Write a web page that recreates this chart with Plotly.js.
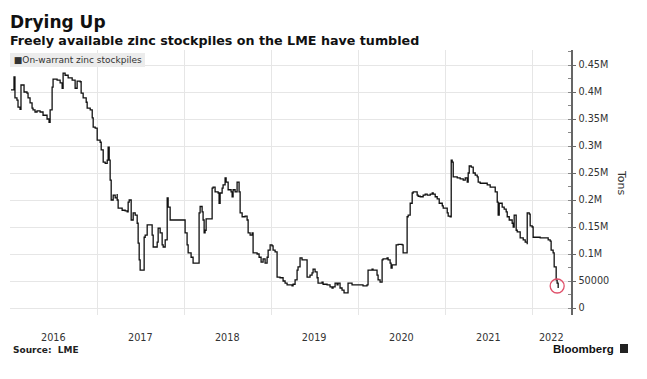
<!DOCTYPE html>
<html>
<head>
<meta charset="utf-8">
<script src="https://cdn.plot.ly/plotly-3.0.1.min.js"></script>
<style>
html,body{margin:0;padding:0;background:#fff;}
#chart{width:647px;height:379px;}
</style>
</head>
<body>
<div id="chart"></div>
<script>
const dateYears = [
2016.011,2016.046,2016.057,2016.080,2016.092,2016.115,2016.126,2016.161,2016.195,2016.207,
2016.230,2016.253,2016.264,2016.287,2016.310,2016.345,2016.379,2016.425,2016.448,2016.460,
2016.483,2016.494,2016.540,2016.575,2016.598,2016.609,2016.632,2016.667,2016.713,2016.747,
2016.747,2016.770,2016.805,2016.816,2016.839,2016.874,2016.885,2016.920,2016.943,2016.954,
2016.977,2017.000,2017.034,2017.046,2017.069,2017.092,2017.115,2017.126,2017.138,2017.149,
2017.161,2017.184,2017.207,2017.230,2017.230,2017.241,2017.287,2017.322,2017.345,2017.356,
2017.368,2017.391,2017.414,2017.437,2017.460,2017.471,2017.483,2017.494,2017.529,2017.540,
2017.552,2017.575,2017.609,2017.632,2017.644,2017.667,2017.690,2017.701,2017.724,2017.747,
2017.759,2017.782,2017.805,2017.816,2017.839,2017.989,2018.011,2018.034,2018.046,2018.080,
2018.103,2018.161,2018.172,2018.184,2018.207,2018.218,2018.230,2018.241,2018.253,2018.299,
2018.322,2018.333,2018.356,2018.391,2018.402,2018.414,2018.437,2018.448,2018.471,2018.483,
2018.506,2018.540,2018.552,2018.563,2018.586,2018.609,2018.632,2018.644,2018.667,2018.701,
2018.724,2018.736,2018.759,2018.782,2018.793,2018.839,2018.862,2018.885,2018.908,2018.931,
2018.954,2018.966,2018.989,2019.011,2019.023,2019.046,2019.069,2019.103,2019.138,2019.161,
2019.184,2019.218,2019.241,2019.253,2019.276,2019.299,2019.310,2019.333,2019.356,2019.391,
2019.414,2019.414,2019.448,2019.471,2019.483,2019.506,2019.529,2019.540,2019.586,2019.598,
2019.644,2019.678,2019.701,2019.713,2019.736,2019.759,2019.770,2019.793,2019.816,2019.839,
2019.862,2019.885,2019.908,2019.931,2019.989,2020.057,2020.103,2020.115,2020.161,2020.172,
2020.218,2020.230,2020.253,2020.276,2020.287,2020.333,2020.345,2020.368,2020.379,2020.391,
2020.425,2020.437,2020.460,2020.506,2020.517,2020.540,2020.563,2020.575,2020.598,2020.621,
2020.632,2020.667,2020.678,2020.690,2020.713,2020.747,2020.770,2020.793,2020.828,2020.851,
2020.862,2020.885,2020.908,2020.931,2020.966,2020.977,2021.023,2021.034,2021.057,2021.069,
2021.080,2021.092,2021.092,2021.138,2021.172,2021.207,2021.230,2021.253,2021.264,2021.276,
2021.299,2021.322,2021.345,2021.368,2021.379,2021.402,2021.437,2021.483,2021.517,2021.552,
2021.575,2021.598,2021.609,2021.621,2021.655,2021.678,2021.701,2021.713,2021.736,2021.770,
2021.782,2021.793,2021.816,2021.828,2021.862,2021.897,2021.920,2021.943,2021.943,2021.966,
2021.977,2022.000,2022.011,2022.057,2022.092,2022.126,2022.172,2022.184,2022.207,2022.218,
2022.241,2022.253,2022.276,2022.287,2022.299
];
// On-warrant zinc stockpiles, tons
const stockTons = [
404000,428000,389000,385000,372000,368000,413000,400000,398000,389000,
380000,370000,367000,363000,365000,363000,357000,350000,344000,367000,
409000,424000,422000,417000,407000,435000,431000,426000,422000,417000,
407000,420000,419000,398000,389000,381000,370000,367000,352000,335000,
333000,311000,307000,293000,270000,268000,274000,298000,274000,237000,
200000,209000,204000,211000,200000,185000,181000,180000,178000,196000,
200000,163000,176000,172000,157000,120000,89000,70000,70000,131000,
135000,154000,154000,135000,113000,113000,122000,148000,139000,117000,
113000,126000,204000,187000,163000,163000,139000,117000,102000,94000,
83000,83000,176000,188000,178000,163000,139000,144000,165000,165000,
222000,224000,215000,213000,194000,213000,222000,228000,241000,233000,
219000,215000,206000,219000,215000,233000,215000,176000,169000,170000,
163000,139000,135000,139000,102000,100000,94000,85000,91000,83000,
94000,107000,117000,115000,107000,104000,57000,56000,50000,46000,
43000,43000,41000,44000,52000,70000,76000,93000,89000,89000,
87000,57000,61000,65000,72000,67000,56000,46000,48000,44000,
43000,39000,37000,39000,46000,43000,46000,37000,33000,28000,
28000,46000,46000,43000,43000,41000,43000,70000,72000,70000,
61000,52000,48000,89000,91000,93000,89000,83000,74000,80000,
80000,117000,118000,117000,102000,102000,169000,172000,194000,213000,
215000,215000,209000,207000,206000,209000,211000,209000,211000,213000,
211000,206000,202000,194000,189000,185000,176000,170000,169000,274000,
270000,256000,243000,241000,239000,237000,241000,233000,250000,263000,
261000,250000,246000,243000,233000,231000,231000,228000,224000,224000,
215000,196000,172000,194000,187000,183000,178000,169000,163000,157000,
150000,172000,144000,141000,130000,126000,122000,118000,176000,174000,
152000,150000,131000,131000,130000,130000,130000,126000,124000,107000,
102000,76000,52000,46000,37000
];

const xTickDates = ['2016-07-01','2017-07-01','2018-07-01','2019-07-01','2020-07-01','2021-07-01','2022-03-22'];
const xTickLabels = ['2016','2017','2018','2019','2020','2021','2022'];
const yTickValues = [0,50000,100000,150000,200000,250000,300000,350000,400000,450000];
const yTickLabels = ['0','50000','0.1M','0.15M','0.2M','0.25M','0.3M','0.35M','0.4M','0.45M'];

function decYearToDate(d){
  const y = Math.floor(d + 1e-9);
  const s = Date.UTC(y,0,1), e = Date.UTC(y+1,0,1);
  return new Date(s + (d - y)*(e - s)).toISOString().slice(0,19).replace('T',' ');
}
const dates = dateYears.map(decYearToDate);
const lastDate = dates[dates.length-1];
const lastVal = stockTons[stockTons.length-1];

const trace = {
  x: dates, y: stockTons, type:'scatter', mode:'lines',
  line:{color:'#111111', width:1.3, shape:'hv'},
  name:'On-warrant zinc stockpiles', showlegend:false, hoverinfo:'x+y'
};

const grid = '#e6e6e6';
const L = 10, R = 76, T = 50, B = 64, W = 647, H = 379;
const pw = W - L - R, ph = H - T - B;
const px = v => (v - L)/pw;
const py = v => (H - B - v)/ph;

const layout = {
  width:W, height:H,
  margin:{l:L, r:R, t:T, b:B, pad:0},
  paper_bgcolor:'#ffffff', plot_bgcolor:'#ffffff',
  font:{family:'DejaVu Sans, Verdana, sans-serif', color:'#333333', size:10},
  xaxis:{
    type:'date', range:['2016-01-01','2022-06-13'],
    tickmode:'array', tickvals:xTickDates, ticktext:xTickLabels,
    showgrid:false, zeroline:false, showline:false, ticks:'',
    tickfont:{size:9.7, color:'#333333'}, ticklabelstandoff:15,
    minor:{tick0:'2016-01-01', dtick:'M12', showgrid:true, gridcolor:grid, gridwidth:1, ticks:''},
    fixedrange:true
  },
  yaxis:{
    side:'right', range:[-12960, 477800],
    tickmode:'array', tickvals:yTickValues, ticktext:yTickLabels,
    showgrid:true, gridcolor:grid, gridwidth:1, zeroline:false,
    showline:true, linecolor:'#666666', linewidth:1.5,
    ticks:'outside', ticklen:3, tickcolor:'#666666', tickwidth:1,
    tickfont:{size:9.7, color:'#333333'}, ticklabelstandoff:1,
    minor:{tick0:0, dtick:25000, ticks:'inside', ticklen:3, tickcolor:'#888888', showgrid:false},
    fixedrange:true
  },
  shapes:[
    {type:'circle', xref:'x', yref:'y', xsizemode:'pixel', ysizemode:'pixel',
     xanchor:lastDate, yanchor:lastVal, x0:-8, x1:6, y0:-5, y1:9,
     line:{color:'#e0506a', width:1.3}},
    {type:'rect', xref:'paper', yref:'paper', x0:px(620), x1:px(628), y0:py(353), y1:py(344),
     fillcolor:'#222222', line:{width:0}}
  ],
  annotations:[
    {xref:'paper', yref:'paper', x:px(8), y:py(22), xanchor:'left', yanchor:'middle', showarrow:false,
     text:'<b>Drying Up</b>', font:{family:'DejaVu Sans', size:17, color:'#111111'}},
    {xref:'paper', yref:'paper', x:px(8), y:py(40), xanchor:'left', yanchor:'middle', showarrow:false,
     text:'<b>Freely available zinc stockpiles on the LME have tumbled</b>', font:{family:'DejaVu Sans', size:12.7, color:'#111111'}},
    {xref:'paper', yref:'paper', x:px(10), y:py(60), xanchor:'left', yanchor:'middle', showarrow:false,
     text:'\u2009■On-warrant zinc stockpiles', align:'left', width:131, bgcolor:'#ececec', borderwidth:0, borderpad:2,
     font:{family:'DejaVu Sans', size:9, color:'#333333'}},
    {xref:'paper', yref:'paper', x:px(622), y:py(183), xanchor:'center', yanchor:'middle', showarrow:false,
     text:'Tons', textangle:90, font:{family:'DejaVu Sans', size:11, color:'#333333'}},
    {xref:'paper', yref:'paper', x:px(11), y:py(350), xanchor:'left', yanchor:'middle', showarrow:false,
     text:'<b>Source:  LME</b>', font:{family:'DejaVu Sans', size:9, color:'#222222'}},
    {xref:'paper', yref:'paper', x:px(551), y:py(349), xanchor:'left', yanchor:'middle', showarrow:false,
     text:'<b>Bloomberg</b>', font:{family:'Liberation Sans, Arial, sans-serif', size:11.5, color:'#111111'}}
  ]
};

Plotly.newPlot('chart', [trace], layout, {staticPlot:true, displayModeBar:false});
</script>
</body>
</html>
